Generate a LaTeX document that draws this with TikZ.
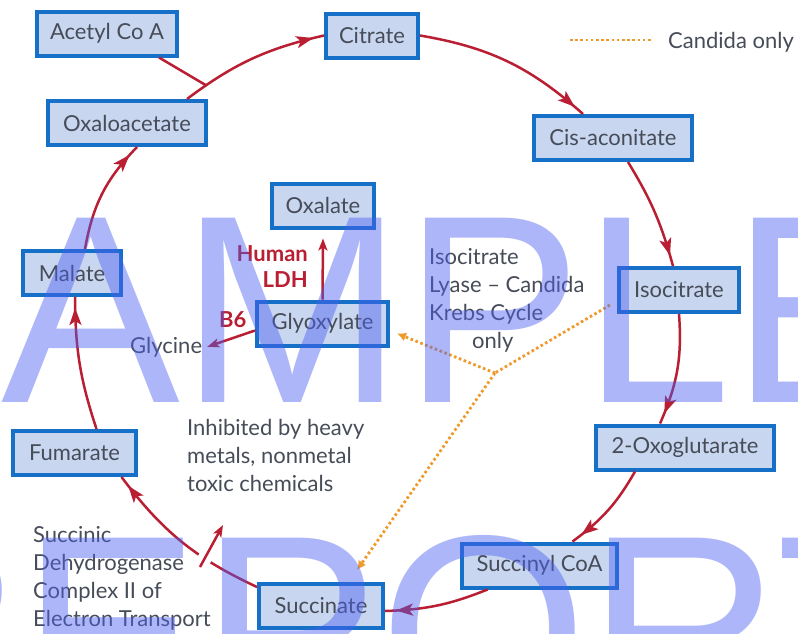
\documentclass[tikz,border=0pt]{standalone}
\usepackage{fontspec}
\setmainfont{Lato}
\newfontfamily\wmarkfont{Liberation Sans}
\usetikzlibrary{arrows.meta,decorations.markings,calc}
\definecolor{boxfill}{RGB}{200,214,240}
\definecolor{boxline}{RGB}{22,112,200}
\definecolor{txt}{RGB}{70,76,88}
\definecolor{arr}{RGB}{185,30,50}
\definecolor{org}{RGB}{238,155,45}
\definecolor{wm}{RGB}{75,95,240}
\begin{document}
\begin{tikzpicture}[x=1pt,y=-1pt,
  font=\fontsize{22}{28}\selectfont,
  box/.style={draw=boxline, line width=4pt, fill=boxfill, text=txt, minimum height=44pt, inner sep=0pt},
  lab/.style={text=txt, inner sep=0pt},
  cyc/.style={draw=arr, line width=2.5pt, postaction={decorate},
    decoration={markings, mark=at position -11pt with {\arrow{Stealth[length=17pt,width=12pt,inset=4pt]}}}},
  plainln/.style={draw=arr, line width=2.5pt},
  sarr/.style={draw=arr, line width=2.5pt, -{Stealth[length=12pt,width=9pt,inset=3pt]}},
  orn/.style={draw=org, line width=2.8pt, dash pattern=on 2.6pt off 2.6pt},
  bold/.style={text=arr, inner sep=0pt, font=\fontsize{22}{26}\selectfont\bfseries},
  wmark/.style={inner sep=0pt, anchor=base west, text=wm, text opacity=0.45}
]
\useasboundingbox (0,0) rectangle (798,633);
\clip (0,0) rectangle (798,633);
\fill[white] (0,0) rectangle (798,633);

% boxes
\node[box, minimum width=140pt] (ace) at (107,33.5) {Acetyl Co A};
\node[box, minimum width=92pt]  (cit) at (372,35.5) {Citrate};
\node[box, minimum width=158pt] (oxa) at (127,123) {Oxaloacetate};
\node[box, minimum width=158pt] (cis) at (613,138) {Cis-aconitate};
\node[box, minimum width=102pt] (oxl) at (323,205.5) {Oxalate};
\node[box, minimum width=98pt]  (mal) at (72,273) {Malate};
\node[box, minimum width=120pt] (iso) at (679,290) {Isocitrate};
\node[box, minimum width=131pt] (gly) at (322.5,323.5) {Glyoxylate};
\node[box, minimum width=123pt] (fum) at (74.5,453) {Fumarate};
\node[box, minimum width=178pt] (oxo) at (685,447.5) {2-Oxoglutarate};
\node[box, minimum width=155pt] (sca) at (539.5,565.5) {Succinyl CoA};
\node[box, minimum width=124pt] (suc) at (321,606) {Succinate};

% cycle
\draw[cyc] ([shift={(60,0)}]oxa.north) to[bend left=12] coordinate[pos=0.14] (jn1) (cit.west);
\draw[plainln] ([shift={(52,0)}]ace.south) -- (jn1);
\draw[cyc] (cit.east) to[bend left=16] ([shift={(-30,0)}]cis.north);
\draw[cyc] ([shift={(15,0)}]cis.south) to[bend left=8] ([shift={(-6,0)}]iso.north);
\draw[cyc] (iso.south) to[bend left=14] ([shift={(-25,0)}]oxo.north);
\draw[cyc] ([shift={(-50,0)}]oxo.south) to[bend left=12] ([shift={(33,0)}]sca.north);
\draw[cyc] ([shift={(-52,0)}]sca.south) to[bend left=10] ([shift={(0,5)}]suc.east);
\draw[cyc] ([shift={(0,-19)}]suc.west) to[bend left=14] ([shift={(47,0)}]fum.south);
\draw[cyc] ([shift={(22,0)}]fum.north) to[bend left=9] ([shift={(3,0)}]mal.south);
\draw[cyc] ([shift={(13,0)}]mal.north) to[bend left=17] ([shift={(10,0)}]oxa.south);

% inhibitor
\coordinate (ib1) at (200,567);
\coordinate (ib2) at (223,525);
\draw[white, line width=14pt] ($(ib1)!-0.05!(ib2)$) -- ($(ib1)!0.3!(ib2)$);
\draw[sarr] (ib1) -- (ib2);

% glyoxylate side
\node[lab, anchor=base west] (gcn) at (130,353) {Glycine};
\node[bold, anchor=base west] (b6) at (219,327) {B6};
\node[bold, align=right, anchor=north east] (ldh) at (308,245) {Human\\LDH};
\draw[sarr] ([shift={(0,7)}]gly.west) -- ([shift={(5,0)}]gcn.east);
\draw[sarr] (gly.north) -- ([shift={(0,9)}]oxl.south);

% candida dotted paths
\coordinate (jn2) at (495,373);
\draw[orn] ([shift={(-7,15)}]iso.west) -- (jn2);
\draw[orn, -{Latex[length=9pt,width=9pt]}] (jn2) -- ([shift={(7,10)}]gly.east);
\draw[orn, -{Latex[length=9pt,width=9pt]}] (jn2) -- ([shift={(36,-12)}]suc.north);

% legend
\coordinate (lg1) at (570,40);
\coordinate (lg2) at (653,40);
\draw[orn] (lg1) -- (lg2);
\node[lab, anchor=base west] (lgt) at (668,48) {Candida only};

% text blocks
\node[lab, align=left, anchor=north west] (ilt) at (429,248) {Isocitrate\\Lyase – Candida\\Krebs Cycle\\\hspace*{43pt}only};
\node[lab, align=left, anchor=north west] (inh) at (187,419) {Inhibited by heavy\\metals, nonmetal\\toxic chemicals};
\node[lab, align=left, anchor=north west] (sdh) at (33,526) {Succinic\\Dehydrogenase\\Complex II of\\Electron Transport};

% watermark
\node[wmark] (wm1) at (-177,402) {\wmarkfont\fontsize{268}{268}\selectfont SAMPLE};
\node[wmark] (wm2) at (-172,722) {\wmarkfont\fontsize{268}{268}\selectfont REPORT};
\end{tikzpicture}
\end{document}
